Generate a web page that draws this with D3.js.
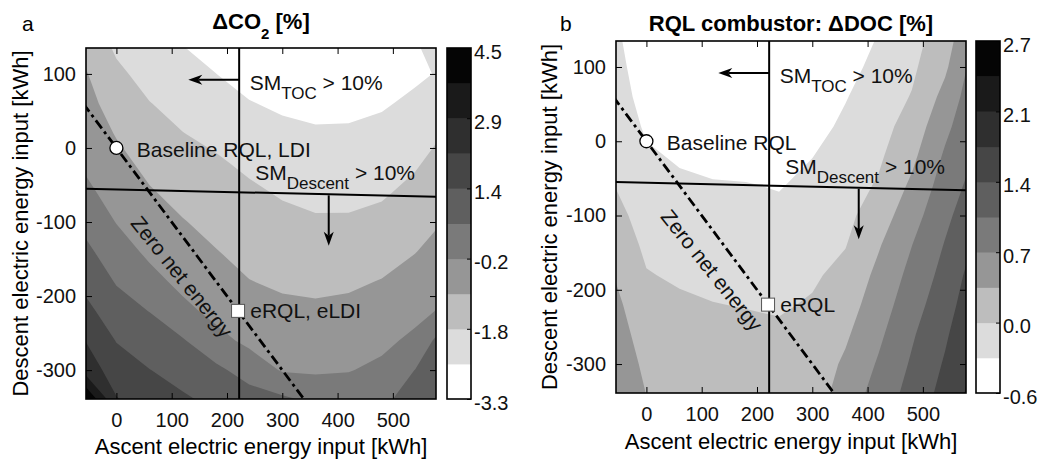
<!DOCTYPE html>
<html>
<head>
<meta charset="utf-8">
<title>Delta CO2 and Delta DOC contours</title>
<script src="https://cdn.jsdelivr.net/npm/d3@7"></script>
<style>
  body { margin: 0; background: #fff; }
  svg { font-family: "Liberation Sans", Arial, Helvetica, sans-serif; }
</style>
</head>
<body>
<svg id="chart" width="1038" height="462"></svg>
<script>
// grid nodes of the contour data, kWh (ascent across, descent down from the top row)
var xNodes = [-55, 0, 60, 120, 180, 240, 300, 360, 420, 480, 540, 578];
var yNodes = [135, 100, 60, 20, -20, -60, -100, -140, -180, -220, -260, -300, -339];

// panel a: delta CO2 [%], one row per yNode
var co2Grid = [
  [-1.22, -1.88, -2.28, -2.53, -2.81, -3.09, -3.20, -3.30, -3.28, -3.11, -2.58, -2.49],
  [-0.94, -1.62, -2.03, -2.30, -2.55, -2.81, -2.95, -3.00, -2.98, -2.88, -2.67, -2.53],
  [-0.74, -1.33, -1.75, -2.02, -2.25, -2.52, -2.67, -2.74, -2.73, -2.63, -2.42, -2.20],
  [-0.53, -1.04, -1.47, -1.76, -1.95, -2.21, -2.39, -2.48, -2.47, -2.37, -2.14, -1.87],
  [-0.33, -0.76, -1.20, -1.49, -1.68, -1.91, -2.12, -2.22, -2.21, -2.12, -1.86, -1.59],
  [-0.05, -0.49, -0.92, -1.22, -1.44, -1.65, -1.84, -1.96, -1.95, -1.86, -1.58, -1.33],
  [ 0.35, -0.23, -0.63, -0.95, -1.20, -1.43, -1.59, -1.69, -1.69, -1.57, -1.29, -1.06],
  [ 0.75,  0.14, -0.35, -0.67, -0.96, -1.20, -1.34, -1.42, -1.40, -1.27, -1.01, -0.78],
  [ 1.13,  0.52,  0.03, -0.40, -0.68, -0.97, -1.10, -1.15, -1.10, -0.96, -0.71, -0.49],
  [ 1.57,  0.92,  0.56, -0.01, -0.41, -0.68, -0.83, -0.87, -0.82, -0.67, -0.42, -0.19],
  [ 2.12,  1.33,  0.97,  0.64,  0.04, -0.38, -0.55, -0.59, -0.53, -0.38, -0.04,  0.70],
  [ 2.58,  1.77,  1.38,  1.06,  0.74,  0.27, -0.27, -0.31, -0.24, -0.04,  0.59,  1.07],
  [ 4.50,  2.19,  1.72,  1.47,  1.17,  0.89,  0.71,  0.40,  0.26,  0.39,  0.96,  1.29]
];

// panel b: RQL combustor delta DOC [%]
var docGrid = [
  [-0.24, -0.50, -0.56, -0.60, -0.60, -0.60, -0.55, -0.46, -0.27, -0.08,  0.24,  0.57],
  [-0.19, -0.48, -0.58, -0.61, -0.63, -0.61, -0.56, -0.39, -0.21, -0.02,  0.32,  0.70],
  [-0.13, -0.43, -0.53, -0.58, -0.60, -0.58, -0.53, -0.31, -0.14,  0.06,  0.48,  0.80],
  [-0.08, -0.34, -0.45, -0.50, -0.51, -0.50, -0.39, -0.24, -0.08,  0.18,  0.63,  0.89],
  [-0.02, -0.25, -0.33, -0.38, -0.39, -0.39, -0.30, -0.17, -0.01,  0.30,  0.76,  0.98],
  [ 0.03, -0.18, -0.24, -0.27, -0.28, -0.31, -0.22, -0.11,  0.08,  0.44,  0.87,  1.08],
  [ 0.14, -0.10, -0.16, -0.19, -0.20, -0.23, -0.15, -0.04,  0.21,  0.58,  0.97,  1.19],
  [ 0.24, -0.02, -0.08, -0.11, -0.13, -0.15, -0.07,  0.03,  0.35,  0.71,  1.07,  1.31],
  [ 0.35,  0.06,  0.00, -0.03, -0.05, -0.07,  0.00,  0.13,  0.46,  0.81,  1.16,  1.42],
  [ 0.45,  0.14,  0.09,  0.05,  0.03,  0.01,  0.07,  0.23,  0.55,  0.91,  1.25,  1.50],
  [ 0.53,  0.22,  0.16,  0.13,  0.11,  0.09,  0.13,  0.33,  0.65,  1.01,  1.34,  1.58],
  [ 0.61,  0.30,  0.24,  0.21,  0.18,  0.17,  0.19,  0.43,  0.75,  1.09,  1.42,  1.66],
  [ 0.70,  0.37,  0.32,  0.29,  0.26,  0.24,  0.24,  0.50,  0.86,  1.16,  1.50,  1.74]
];

// colour bar limits, 10 bands each
var co2Range = [-3.34, 4.5];
var docRange = [-0.63, 2.73];
var nBands = 10;
var grays = ["#ffffff", "#dcdcdc", "#bdbdbd", "#969696", "#7a7a7a",
             "#5f5f5f", "#464646", "#2f2f2f", "#1a1a1a", "#050505"];

var xDomain = [-55, 578];
var yDomain = [-339, 135];
var xTicks = [0, 100, 200, 300, 400, 500];
var yTicks = [-300, -200, -100, 0, 100];

// reference lines, design points and arrows (kWh)
var tocLimitX = 222;
var descentLimit = [[-55, -55], [578, -66]];
var zeroNetLine = [[-60, 60], [345, -345]];
var baselinePt = [0, 0];
var electricPt = [220, -220];
var tocArrow = [[222, 92], [130, 92]];
var descentArrow = [[384, -64], [384, -132]];

var panels = [
  { letter: "a", grid: co2Grid, range: co2Range,
    title: [{t: "\u0394CO"}, {t: "2", sub: true}, {t: " [%]"}],
    baseLabel: "Baseline RQL, LDI", elecLabel: "eRQL, eLDI",
    plot: {l: 86, r: 436, t: 48, b: 399}, cb: {l: 447, r: 471},
    letterPos: [22, 31], titleY: 29, yLabelX: 28, xLabelY: 454 },
  { letter: "b", grid: docGrid, range: docRange,
    title: [{t: "RQL combustor: \u0394DOC [%]"}],
    baseLabel: "Baseline RQL", elecLabel: "eRQL",
    plot: {l: 616, r: 966, t: 41, b: 393}, cb: {l: 976, r: 1000},
    letterPos: [560, 31], titleY: 31, yLabelX: 557, xLabelY: 449 }
];

var svg = d3.select("#chart");

panels.forEach(drawPanel);

// text with sub-scripted parts
function rich(text, parts, size, subSize, shift) {
  parts.forEach(function(p, i) {
    var after = i > 0 && parts[i - 1].sub;
    text.append("tspan")
      .attr("font-size", p.sub ? subSize : size)
      .attr("dy", p.sub ? shift : (after ? -shift : 0))
      .text(p.t);
  });
  return text;
}

function arrow(g, a, b) {
  var ang = Math.atan2(b[1] - a[1], b[0] - a[0]);
  var c = Math.cos(ang), s = Math.sin(ang);
  var len = 14, w = 5, notch = 4;
  g.append("line")
    .attr("x1", a[0]).attr("y1", a[1])
    .attr("x2", b[0] - (len - notch) * c).attr("y2", b[1] - (len - notch) * s)
    .attr("stroke", "#000").attr("stroke-width", 2);
  var pts = [
    b,
    [b[0] - len * c - w * s, b[1] - len * s + w * c],
    [b[0] - (len - notch) * c, b[1] - (len - notch) * s],
    [b[0] - len * c + w * s, b[1] - len * s - w * c]
  ];
  g.append("path").attr("d", "M" + pts.join("L") + "Z").attr("fill", "#000");
}

function drawPanel(p) {
  var x = d3.scaleLinear().domain(xDomain).range([p.plot.l, p.plot.r]);
  var y = d3.scaleLinear().domain(yDomain).range([p.plot.b, p.plot.t]);
  var g = svg.append("g");
  var clipId = "clip-" + p.letter;

  g.append("clipPath").attr("id", clipId).append("rect")
    .attr("x", p.plot.l).attr("y", p.plot.t)
    .attr("width", p.plot.r - p.plot.l).attr("height", p.plot.b - p.plot.t);

  var plot = g.append("g").attr("clip-path", "url(#" + clipId + ")");

  var step = (p.range[1] - p.range[0]) / nBands;
  var levels = d3.range(nBands + 1).map(function(i) { return p.range[0] + i * step; });

  plot.append("rect")
    .attr("x", p.plot.l).attr("y", p.plot.t)
    .attr("width", p.plot.r - p.plot.l).attr("height", p.plot.b - p.plot.t)
    .attr("fill", grays[0]);

  // grid index -> pixel (value i sits at i + 0.5 in d3.contours)
  var gx = d3.scaleLinear().domain(xNodes.map(function(d, i) { return i + 0.5; })).range(xNodes.map(x));
  var gy = d3.scaleLinear().domain(yNodes.map(function(d, i) { return i + 0.5; })).range(yNodes.map(y));

  var values = [].concat.apply([], p.grid);
  var bands = d3.contours()
    .size([xNodes.length, yNodes.length])
    .thresholds(levels.slice(1, nBands))(values);

  function ring(r) {
    return "M" + r.map(function(pt) {
      return gx(pt[0]).toFixed(2) + "," + gy(pt[1]).toFixed(2);
    }).join("L") + "Z";
  }

  plot.selectAll("path.band")
    .data(bands)
    .enter().append("path")
    .attr("class", "band")
    .attr("fill", function(d, i) { return grays[i + 1]; })
    .attr("fill-rule", "evenodd")
    .attr("d", function(d) {
      return d.coordinates.map(function(poly) { return poly.map(ring).join(""); }).join("");
    });

  var line = d3.line().x(function(d) { return x(d[0]); }).y(function(d) { return y(d[1]); });

  plot.append("line")
    .attr("x1", x(tocLimitX)).attr("x2", x(tocLimitX))
    .attr("y1", p.plot.t).attr("y2", p.plot.b)
    .attr("stroke", "#000").attr("stroke-width", 2);
  plot.append("path").attr("d", line(descentLimit))
    .attr("fill", "none").attr("stroke", "#000").attr("stroke-width", 2);
  plot.append("path").attr("d", line(zeroNetLine))
    .attr("fill", "none").attr("stroke", "#000").attr("stroke-width", 2.8)
    .attr("stroke-dasharray", "10,4,3,4");

  arrow(plot, [x(tocArrow[0][0]), y(tocArrow[0][1])],
              [x(tocArrow[1][0]), y(tocArrow[1][1])]);
  arrow(plot, [x(descentArrow[0][0]), y(descentArrow[0][1])],
              [x(descentArrow[1][0]), y(descentArrow[1][1])]);

  // labels inside the plot
  var ann = g.append("g").attr("fill", "#111");
  rich(ann.append("text").attr("x", x(241)).attr("y", y(78)),
       [{t: "SM"}, {t: "TOC", sub: true}, {t: " > 10%"}], 21, 17, 9);
  rich(ann.append("text").attr("x", x(251)).attr("y", y(-43.5)),
       [{t: "SM"}, {t: "Descent", sub: true}, {t: " > 10%"}], 21, 17, 9);
  ann.append("text").attr("x", x(37)).attr("y", y(-12)).attr("font-size", 21).text(p.baseLabel);
  ann.append("text").attr("x", x(242)).attr("y", y(-230)).attr("font-size", 21).text(p.elecLabel);

  var zAng = Math.atan2(y(zeroNetLine[1][1]) - y(zeroNetLine[0][1]),
                        x(zeroNetLine[1][0]) - x(zeroNetLine[0][0])) * 180 / Math.PI - 2;
  ann.append("text")
    .attr("transform", "translate(" + x(108) + "," + y(-180) + ") rotate(" + zAng + ")")
    .attr("text-anchor", "middle").attr("font-size", 21)
    .text("Zero net energy");

  g.append("circle")
    .attr("cx", x(baselinePt[0])).attr("cy", y(baselinePt[1])).attr("r", 6.5)
    .attr("fill", "#fff").attr("stroke", "#000").attr("stroke-width", 1.3);
  g.append("rect")
    .attr("x", x(electricPt[0]) - 6.5).attr("y", y(electricPt[1]) - 6.5)
    .attr("width", 13).attr("height", 13)
    .attr("fill", "#fff").attr("stroke", "#555").attr("stroke-width", 1);

  // axes, ticks pointing inwards on all four sides
  var fmt = function(d) { return String(d); };
  var axes = g.append("g");
  axes.append("g").attr("transform", "translate(0," + p.plot.b + ")")
    .call(d3.axisBottom(x).tickValues(xTicks).tickSize(-6).tickPadding(14).tickFormat(fmt));
  axes.append("g").attr("transform", "translate(0," + p.plot.t + ")")
    .call(d3.axisTop(x).tickValues(xTicks).tickSize(-6).tickFormat(""));
  axes.append("g").attr("transform", "translate(" + p.plot.l + ",0)")
    .call(d3.axisLeft(y).tickValues(yTicks).tickSize(-6).tickPadding(10).tickFormat(fmt));
  axes.append("g").attr("transform", "translate(" + p.plot.r + ",0)")
    .call(d3.axisRight(y).tickValues(yTicks).tickSize(-6).tickFormat(""));
  axes.selectAll(".domain").remove();
  axes.selectAll("g").attr("font-family", null).attr("font-size", 20);
  axes.selectAll("line").attr("stroke", "#000");
  axes.selectAll("text").attr("fill", "#111");

  g.append("rect")
    .attr("x", p.plot.l).attr("y", p.plot.t)
    .attr("width", p.plot.r - p.plot.l).attr("height", p.plot.b - p.plot.t)
    .attr("fill", "none").attr("stroke", "#000").attr("stroke-width", 1.6);

  // colour bar
  var cy = d3.scaleLinear().domain(p.range).range([p.plot.b, p.plot.t]);
  g.selectAll("rect.cb")
    .data(d3.range(nBands))
    .enter().append("rect")
    .attr("class", "cb")
    .attr("x", p.cb.l).attr("width", p.cb.r - p.cb.l)
    .attr("y", function(i) { return cy(levels[i + 1]); })
    .attr("height", function(i) { return cy(levels[i]) - cy(levels[i + 1]) + 0.5; })
    .attr("fill", function(i) { return grays[i]; });
  var cbAxis = g.append("g").attr("transform", "translate(" + p.cb.r + ",0)")
    .call(d3.axisRight(cy)
      .tickValues(levels.filter(function(d, i) { return i % 2 === 0; }))
      .tickSize(-4).tickPadding(3)
      .tickFormat(function(d) { return d.toFixed(1); }));
  cbAxis.select(".domain").remove();
  cbAxis.attr("font-family", null).attr("font-size", 20);
  cbAxis.selectAll("text").attr("dy", "0.5em").attr("fill", "#111");
  cbAxis.selectAll("line").attr("stroke", "#000");
  g.append("rect")
    .attr("x", p.cb.l).attr("y", p.plot.t)
    .attr("width", p.cb.r - p.cb.l).attr("height", p.plot.b - p.plot.t)
    .attr("fill", "none").attr("stroke", "#000").attr("stroke-width", 1.6);

  // titles and axis labels
  var cx = (p.plot.l + p.plot.r) / 2;
  rich(g.append("text").attr("x", cx).attr("y", p.titleY)
         .attr("text-anchor", "middle").attr("font-weight", "bold"),
       p.title, 22, 15, 10);
  g.append("text").attr("x", p.letterPos[0]).attr("y", p.letterPos[1])
    .attr("font-size", 21).text(p.letter);
  g.append("text").attr("x", cx).attr("y", p.xLabelY)
    .attr("text-anchor", "middle").attr("font-size", 22)
    .text("Ascent electric energy input [kWh]");
  g.append("text")
    .attr("transform", "translate(" + p.yLabelX + "," + (p.plot.t + p.plot.b) / 2 + ") rotate(-90)")
    .attr("text-anchor", "middle").attr("font-size", 22)
    .text("Descent electric energy input [kWh]");
}
</script>
</body>
</html>
